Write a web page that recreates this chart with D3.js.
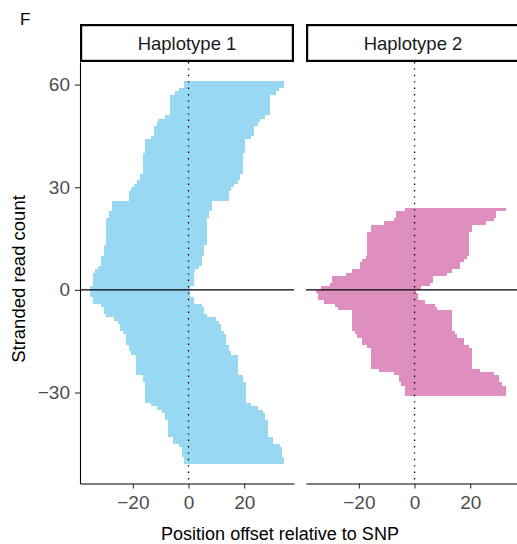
<!DOCTYPE html>
<html>
<head>
<meta charset="utf-8">
<script src="https://cdn.jsdelivr.net/npm/d3@7"></script>
<style>
  body { margin: 0; background: #fff; }
  text { font-family: "Liberation Sans", Arial, sans-serif; }
</style>
</head>
<body>
<script>
// Read offsets per haplotype, plus strand rows go up from 0, minus strand rows go down
var panels = ["Haplotype 1", "Haplotype 2"];

var h1PlusStart = [-35.5, -34.4, -34.4, -34.4, -34.4, -33.7, -32.6, -31.5, -31.5, -31.5,
  -30.5, -30.5, -30.5, -29.7, -29.7, -29.7, -29.7, -29.7, -29.7, -29.7, -29.7,
  -28.7, -28.7, -27.6, -27.6, -27.6, -21.5, -21.5, -21.5, -20.8, -19.7, -18.6,
  -17.6, -17.6, -16.5, -16.5, -16.5, -16.5, -16.5, -16.5, -15.8, -15.8, -15.8, -15.8,
  -13.6, -12.5, -12.5, -12.5, -11.5, -10.8, -8.6, -6.8, -6.8, -6.8, -6.8, -6.8, -6.8,
  -4.7, -3.6, -1.8, -1.8];
var h1PlusEnd = [0.7, 1.8, 1.8, 1.8, 1.8, 2.5, 3.6, 4.7, 4.7, 4.7,
  5.7, 5.7, 5.7, 6.5, 6.5, 6.5, 6.5, 6.5, 6.5, 6.5, 6.5,
  7.5, 7.5, 8.6, 8.6, 8.6, 14.7, 14.7, 14.7, 15.4, 16.5, 17.6,
  18.6, 18.6, 19.7, 19.7, 19.7, 19.7, 19.7, 19.7, 20.4, 20.4, 20.4, 20.4,
  22.6, 23.7, 23.7, 23.7, 25.0, 25.7, 27.6, 29.4, 29.4, 29.4, 29.4, 29.4, 29.4,
  31.5, 32.6, 34.4, 34.4];

var h1MinusStart = [-35.5, -35.5, -34.4, -34.4, -31.6, -30.5, -30.5, -29.8, -26.6, -25.5,
  -24.8, -24.8, -23.7, -22.6, -22.6, -22.6, -21.5, -21.5, -20.8,
  -18.7, -18.7, -18.7, -18.7, -18.7, -18.7, -16.5, -16.5,
  -15.8, -15.8, -15.8, -15.8, -15.8, -15.8, -13.6, -11.5, -9.7, -8.6, -8.6,
  -7.5, -7.5, -7.5, -7.5, -7.5, -5.7, -5.7, -3.6, -2.5, -2.5, -2.5, -1.8, -1.8];
var h1MinusEnd = [0.7, 0.7, 1.8, 1.8, 4.7, 5.7, 5.7, 6.5, 9.7, 10.8,
  11.5, 11.5, 12.6, 13.6, 13.6, 13.6, 14.7, 14.7, 15.4,
  17.6, 17.6, 17.6, 17.6, 17.6, 17.6, 19.7, 19.7,
  20.5, 20.5, 20.5, 20.5, 20.5, 20.5, 22.6, 24.8, 26.6, 27.6, 27.6,
  28.7, 28.7, 28.7, 28.7, 28.7, 30.5, 30.5, 32.7, 33.7, 33.7, 33.7, 34.4, 34.4];

var h2PlusStart = [-33.7, -30.5, -29.8, -29.8, -24.8, -22.6, -19.7, -19.7, -18.7, -17.6,
  -16.9, -16.9, -16.9, -16.9, -16.9, -16.9, -16.9, -15.8, -15.8, -10.8, -7.5,
  -6.8, -6.8, -3.6];
var h2PlusEnd = [2.5, 5.7, 6.5, 6.5, 11.5, 13.6, 16.5, 16.5, 17.6, 18.7,
  19.4, 19.4, 19.4, 19.4, 19.4, 19.4, 19.4, 20.5, 20.5, 25.5, 28.7,
  29.4, 29.4, 32.7];

var h2MinusStart = [-35.5, -34.8, -34.8, -32.7, -28.7, -27.6,
  -22.6, -22.6, -22.6, -22.6, -22.6, -22.6, -21.5, -20.8, -18.7, -18.7, -16.9,
  -15.8, -15.8, -15.8, -15.8, -15.8, -15.8, -12.6, -7.5, -5.7, -5.7, -4.7,
  -3.6, -3.6, -3.6];
var h2MinusEnd = [0.7, 1.4, 1.4, 3.6, 7.5, 8.0,
  13.6, 13.6, 13.6, 13.6, 13.6, 13.6, 14.7, 15.4, 17.6, 17.6, 19.4,
  20.5, 20.5, 20.5, 20.5, 20.5, 20.5, 23.7, 28.7, 30.5, 30.5, 31.6,
  32.7, 32.7, 32.7];

var panelColors = ["#98d8f2", "#de8fbf"];
var xTicks = [-20, 0, 20];
var yTicks = [-30, 0, 30, 60];

var width = 517, height = 544;
var panelTop = 62, panelBottom = 483.5;
var panelLeft = [80, 306], panelWidth = 214;
var stripTop = 24;

// build one record per read
var reads = [];
function addReads(panel, starts, ends, sign) {
  starts.forEach(function(s, i) {
    var k = i + 1;
    reads.push({
      panel: panel,
      start: s,
      end: ends[i],
      y0: sign > 0 ? k - 1 : -k,
      y1: sign > 0 ? k : -(k - 1)
    });
  });
}
addReads(0, h1PlusStart, h1PlusEnd, 1);
addReads(0, h1MinusStart, h1MinusEnd, -1);
addReads(1, h2PlusStart, h2PlusEnd, 1);
addReads(1, h2MinusStart, h2MinusEnd, -1);

// ggplot style 5% expansion
function expand(ext) {
  var pad = (ext[1] - ext[0]) * 0.05;
  return [ext[0] - pad, ext[1] + pad];
}
var xDomain = expand([d3.min(reads, function(d) { return d.start; }),
                      d3.max(reads, function(d) { return d.end; })]);
var yDomain = expand([d3.min(reads, function(d) { return d.y0; }),
                      d3.max(reads, function(d) { return d.y1; })]);

var yScale = d3.scaleLinear().domain(yDomain).range([panelBottom, panelTop]);
var xScales = panelLeft.map(function(l) {
  return d3.scaleLinear().domain(xDomain).range([l, l + panelWidth]);
});

var svg = d3.select("body").append("svg")
  .attr("width", width)
  .attr("height", height);

svg.append("rect").attr("width", width).attr("height", height).attr("fill", "#fff");

function fmt(d) { return d < 0 ? "\u2212" + Math.abs(d) : d; }

panels.forEach(function(name, p) {
  var x = xScales[p];
  var g = svg.append("g");

  // bars
  g.selectAll("rect.read")
    .data(reads.filter(function(d) { return d.panel === p; }))
    .enter()
    .append("rect")
      .attr("class", "read")
      .attr("x", function(d) { return x(d.start); })
      .attr("width", function(d) { return x(d.end) - x(d.start); })
      .attr("y", function(d) { return yScale(d.y1); })
      .attr("height", function(d) { return yScale(d.y0) - yScale(d.y1); })
      .attr("fill", panelColors[p])
      .attr("shape-rendering", "crispEdges");

  // dotted line at the SNP
  g.append("line")
    .attr("x1", x(0)).attr("x2", x(0))
    .attr("y1", panelTop).attr("y2", panelBottom)
    .attr("stroke", "#000")
    .attr("stroke-width", 1.3)
    .attr("stroke-dasharray", "1.4,5");

  // zero line
  g.append("line")
    .attr("x1", x.range()[0]).attr("x2", x.range()[1])
    .attr("y1", yScale(0)).attr("y2", yScale(0))
    .attr("stroke", "#000")
    .attr("stroke-width", 1.3);

  // strip
  g.append("rect")
    .attr("x", x.range()[0] + 1.1)
    .attr("y", stripTop + 1.1)
    .attr("width", panelWidth - 2.2)
    .attr("height", panelTop - stripTop - 2.2)
    .attr("fill", "#fff")
    .attr("stroke", "#000")
    .attr("stroke-width", 2.2);
  g.append("text")
    .attr("x", x.range()[0] + panelWidth / 2)
    .attr("y", 50)
    .attr("text-anchor", "middle")
    .attr("font-size", 18.5)
    .attr("fill", "#1a1a1a")
    .text(name);

  // x axis
  var xAxis = g.append("g")
    .attr("transform", "translate(0," + panelBottom + ")")
    .call(d3.axisBottom(x).tickValues(xTicks).tickSize(5).tickSizeOuter(0).tickPadding(7)
      .tickFormat(fmt));
  xAxis.select(".domain").attr("stroke", "#000").attr("stroke-width", 1.1);
  xAxis.selectAll(".tick line").attr("stroke", "#333").attr("stroke-width", 1.1);
  xAxis.selectAll(".tick text").attr("font-size", 19).attr("fill", "#4d4d4d")
    .attr("font-family", "Liberation Sans, Arial, sans-serif");
});

// y axis on the first panel only
var yAxis = svg.append("g")
  .attr("transform", "translate(" + panelLeft[0] + ",0)")
  .call(d3.axisLeft(yScale).tickValues(yTicks).tickSize(5).tickSizeOuter(0).tickPadding(5)
    .tickFormat(fmt));
yAxis.select(".domain").attr("stroke", "#000").attr("stroke-width", 1.1);
yAxis.selectAll(".tick line").attr("stroke", "#333").attr("stroke-width", 1.1);
yAxis.selectAll(".tick text").attr("font-size", 19).attr("fill", "#4d4d4d")
  .attr("font-family", "Liberation Sans, Arial, sans-serif");

// titles
svg.append("text")
  .attr("x", 280).attr("y", 540)
  .attr("text-anchor", "middle")
  .attr("font-size", 18)
  .attr("fill", "#000")
  .text("Position offset relative to SNP");

svg.append("text")
  .attr("transform", "translate(25,279) rotate(-90)")
  .attr("text-anchor", "middle")
  .attr("font-size", 18.5)
  .attr("fill", "#000")
  .text("Stranded read count");

svg.append("text")
  .attr("x", 20).attr("y", 25)
  .attr("font-size", 17)
  .attr("fill", "#000")
  .text("F");
</script>
</body>
</html>
